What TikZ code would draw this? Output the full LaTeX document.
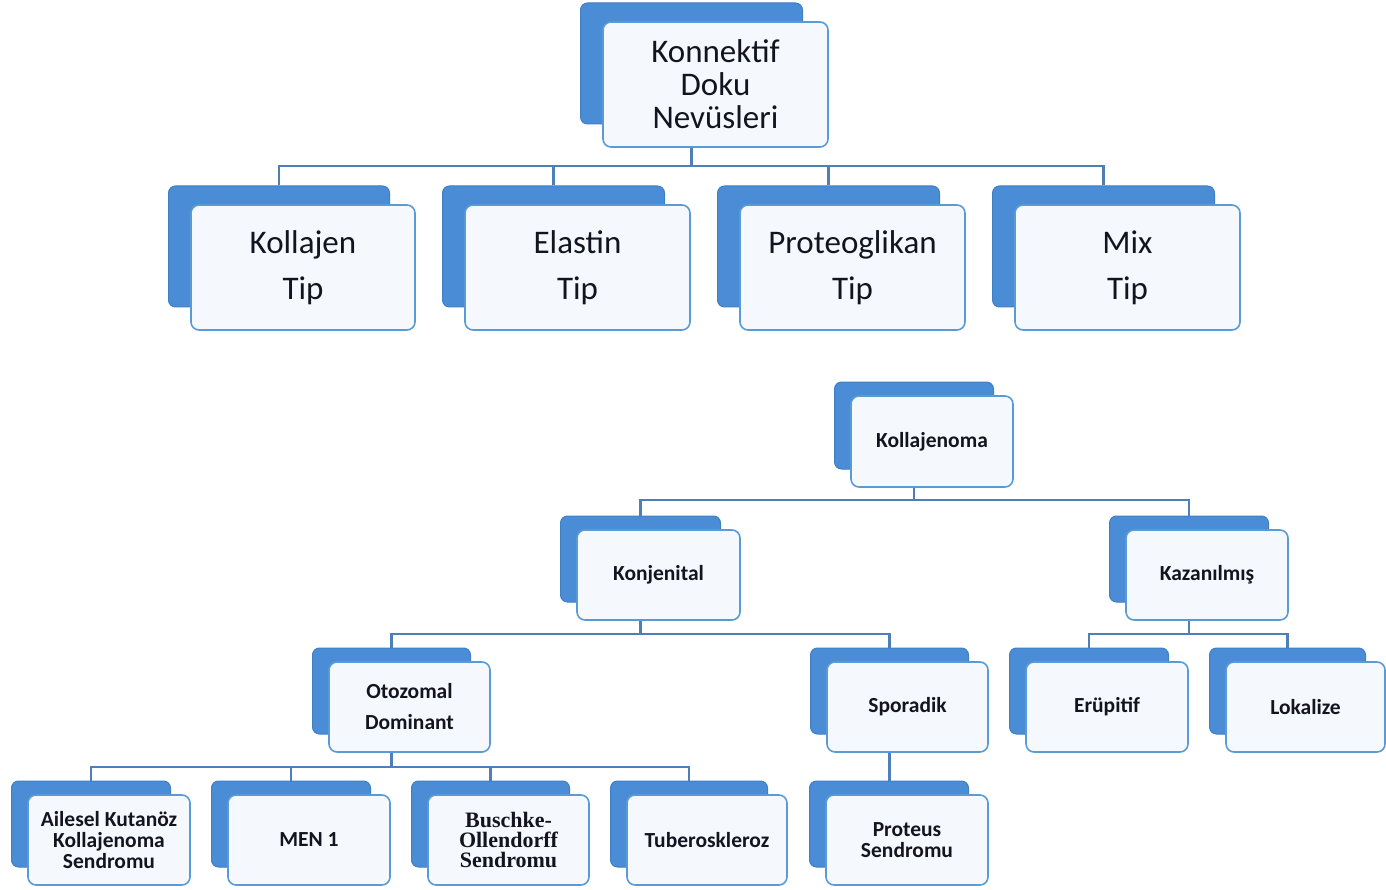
\documentclass[tikz,border=0pt]{standalone}
\usepackage{fontspec}
\setmainfont{Carlito}
\newfontfamily\serifb{Liberation Serif}
\definecolor{backblue}{HTML}{4A8DD6}
\definecolor{backedge}{HTML}{3F7FC4}
\definecolor{frontedge}{HTML}{5B9BD5}
\definecolor{frontfill}{HTML}{F5F9FD}
\definecolor{connc}{HTML}{4F7FB8}
\definecolor{txt}{HTML}{141420}
\tikzset{
  backbox/.style={draw=backedge, fill=backblue, line width=1pt, rounded corners=7pt, inner sep=0pt},
  frontbox/.style={draw=frontedge, fill=frontfill, line width=1.6pt, rounded corners=8pt, inner sep=0pt, align=center, text=txt},
  conn/.style={draw=connc, line width=2.2pt},
  bigtxt/.style={font=\fontsize{33}{33}\selectfont},
  smtxt/.style={font=\fontsize{21.5}{21}\selectfont\bfseries},
}
% name, fx1, fy1, fx2, fy2, dx, dy, style, text
\newcommand\dbox[9]{%
  \node[backbox, minimum width={(#4-#2)*1pt-3pt}, minimum height={(#5-#3)*1pt-4pt}]
     (#1b) at ({(#2+#4)/2-#6-1},{(#3+#5)/2-#7-2}) {};
  \node[frontbox, #8, minimum width={(#4-#2)*1pt}, minimum height={(#5-#3)*1pt}]
     (#1) at ({(#2+#4)/2},{(#3+#5)/2}) {#9};
}
\begin{document}
\begin{tikzpicture}[x=1pt,y=-1pt]
\useasboundingbox (0,0) rectangle (1386,890);
% top
\dbox{top}{603}{22}{828}{147}{23}{19}{bigtxt}{Konnektif\\Doku\\Nevüsleri}
% level 2
\dbox{kol}{191}{205}{415}{330}{23}{19}{bigtxt}{Kollajen\\[13pt]Tip}
\dbox{ela}{465}{205}{690}{330}{23}{19}{bigtxt}{Elastin\\[13pt]Tip}
\dbox{pro}{740}{205}{965}{330}{23}{19}{bigtxt}{Proteoglikan\\[13pt]Tip}
\dbox{mix}{1015}{205}{1240}{330}{23}{19}{bigtxt}{Mix\\[13pt]Tip}
% lower tree
\dbox{kma}{851}{396}{1013}{487}{17}{14}{smtxt}{Kollajenoma}
\dbox{kon}{577}{530}{740}{620}{17}{14}{smtxt}{Konjenital}
\dbox{kaz}{1126}{530}{1288}{620}{17}{14}{smtxt}{Kazanılmış}
\dbox{oto}{329}{662}{490}{752}{17}{14}{smtxt}{Otozomal\\[10pt]Dominant}
\dbox{spo}{827}{662}{988}{752}{17}{14}{smtxt}{Sporadik}
\dbox{eru}{1026}{662}{1188}{752}{17}{14}{smtxt}{Erüpitif}
\dbox{lok}{1226}{662}{1385}{752}{17}{14}{smtxt}{Lokalize}
\dbox{ail}{28}{795}{190}{885}{17}{14}{smtxt}{Ailesel Kutanöz\\Kollajenoma\\Sendromu}
\dbox{men}{228}{795}{390}{885}{17}{14}{smtxt}{MEN 1}
\dbox{bus}{428}{795}{589}{885}{17}{14}{font=\fontsize{22}{20}\selectfont\serifb\bfseries}{Buschke-\\Ollendorff\\Sendromu}
\dbox{tub}{627}{795}{787}{885}{17}{14}{smtxt}{Tuberoskleroz}
\dbox{prs}{826}{795}{988}{885}{17}{14}{smtxt}{Proteus\\Sendromu}
% connectors
\foreach \c in {kol,ela,pro,mix} \draw[conn] (topb |- top.south) -- ++(0,18) -| (\c b.north);
\foreach \c in {kon,kaz} \draw[conn] (kmab |- kma.south) -- ++(0,12) -| (\c b.north);
\foreach \c in {oto,spo} \draw[conn] (konb |- kon.south) -- ++(0,13) -| (\c b.north);
\foreach \c in {eru,lok} \draw[conn] (kazb |- kaz.south) -- ++(0,13) -| (\c b.north);
\foreach \c in {ail,men,bus,tub} \draw[conn] (otob |- oto.south) -- ++(0,14) -| (\c b.north);
\draw[conn] (spob |- spo.south) -- (spob |- prsb.north);
\end{tikzpicture}
\end{document}
